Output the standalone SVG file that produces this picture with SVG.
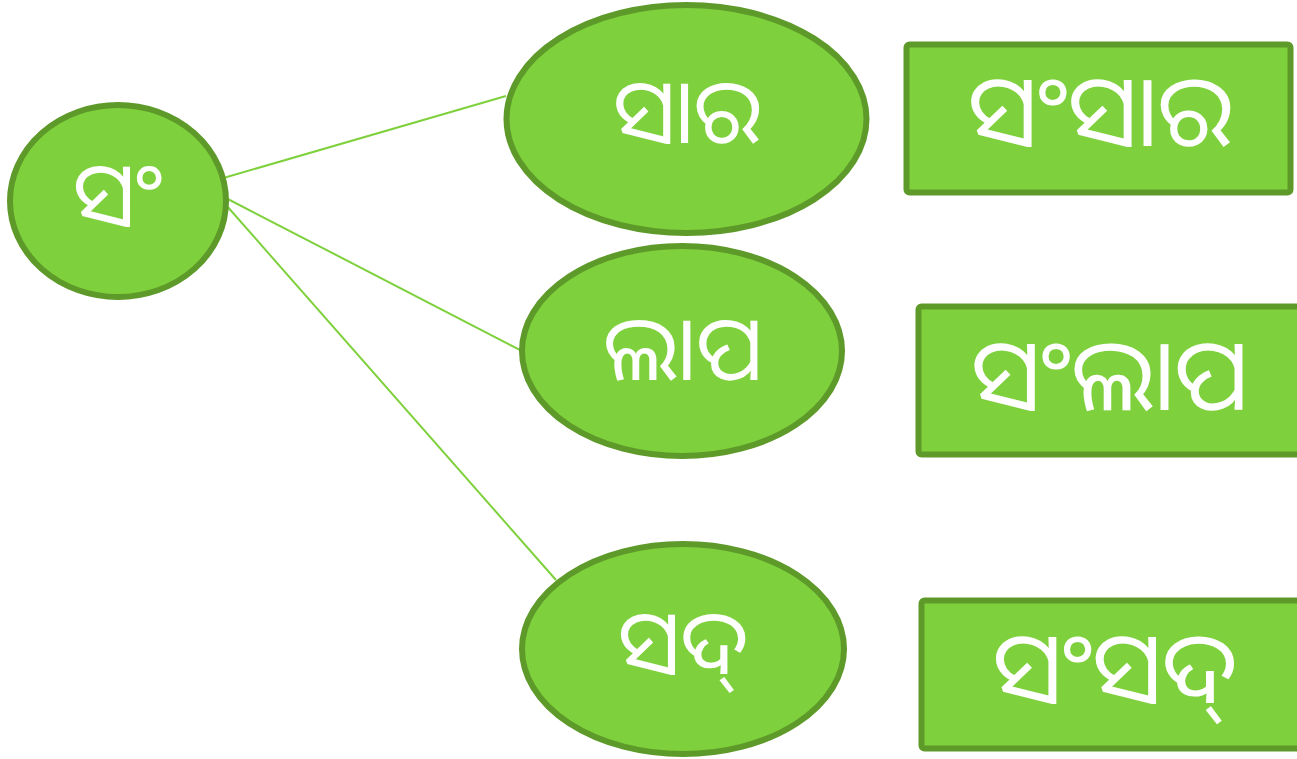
<svg xmlns="http://www.w3.org/2000/svg" width="1297" height="759" viewBox="0 0 1297 759">
<style>
.n{fill:#7ed13c;stroke:#5e9a2a;stroke-width:6}
.t{fill:#ffffff;font-family:"Noto Sans Oriya","Noto Sans","DejaVu Sans",sans-serif;font-size:90px;text-anchor:middle}
.r{font-size:100px}
.c{stroke:#7ed13c;stroke-width:2;fill:none}
</style>
<rect width="1297" height="759" fill="#ffffff"/>
<g id="connectors">
<line class="c" x1="220" y1="179" x2="506" y2="96"/>
<line class="c" x1="222" y1="196" x2="522" y2="351"/>
<line class="c" x1="226" y1="205" x2="556" y2="580"/>
</g>
<g id="node-sam"><ellipse class="n" cx="118" cy="201" rx="108" ry="96"/><text class="t" x="118" y="226">ସଂ</text></g>
<g id="node-sara"><ellipse class="n" cx="686.5" cy="119" rx="180" ry="114"/><text class="t" x="687" y="143">ସାର</text></g>
<g id="node-lapa"><ellipse class="n" cx="682" cy="351" rx="160" ry="105"/><text class="t" x="683" y="380">ଲାପ</text></g>
<g id="node-sad"><ellipse class="n" cx="683" cy="649" rx="161" ry="105"/><text class="t" x="683" y="674">ସଦ୍</text></g>
<g id="node-samsara"><rect class="n" x="906.5" y="44.5" width="384" height="148" rx="3"/><text class="t r" x="1100" y="146">ସଂସାର</text></g>
<g id="node-samlapa"><rect class="n" x="918.5" y="306.5" width="400" height="148" rx="3"/><text class="t r" x="1110" y="410">ସଂଲାପ</text></g>
<g id="node-samsad"><rect class="n" x="921.5" y="600.5" width="400" height="148" rx="3"/><text class="t r" x="1115" y="703">ସଂସଦ୍</text></g>
</svg>
